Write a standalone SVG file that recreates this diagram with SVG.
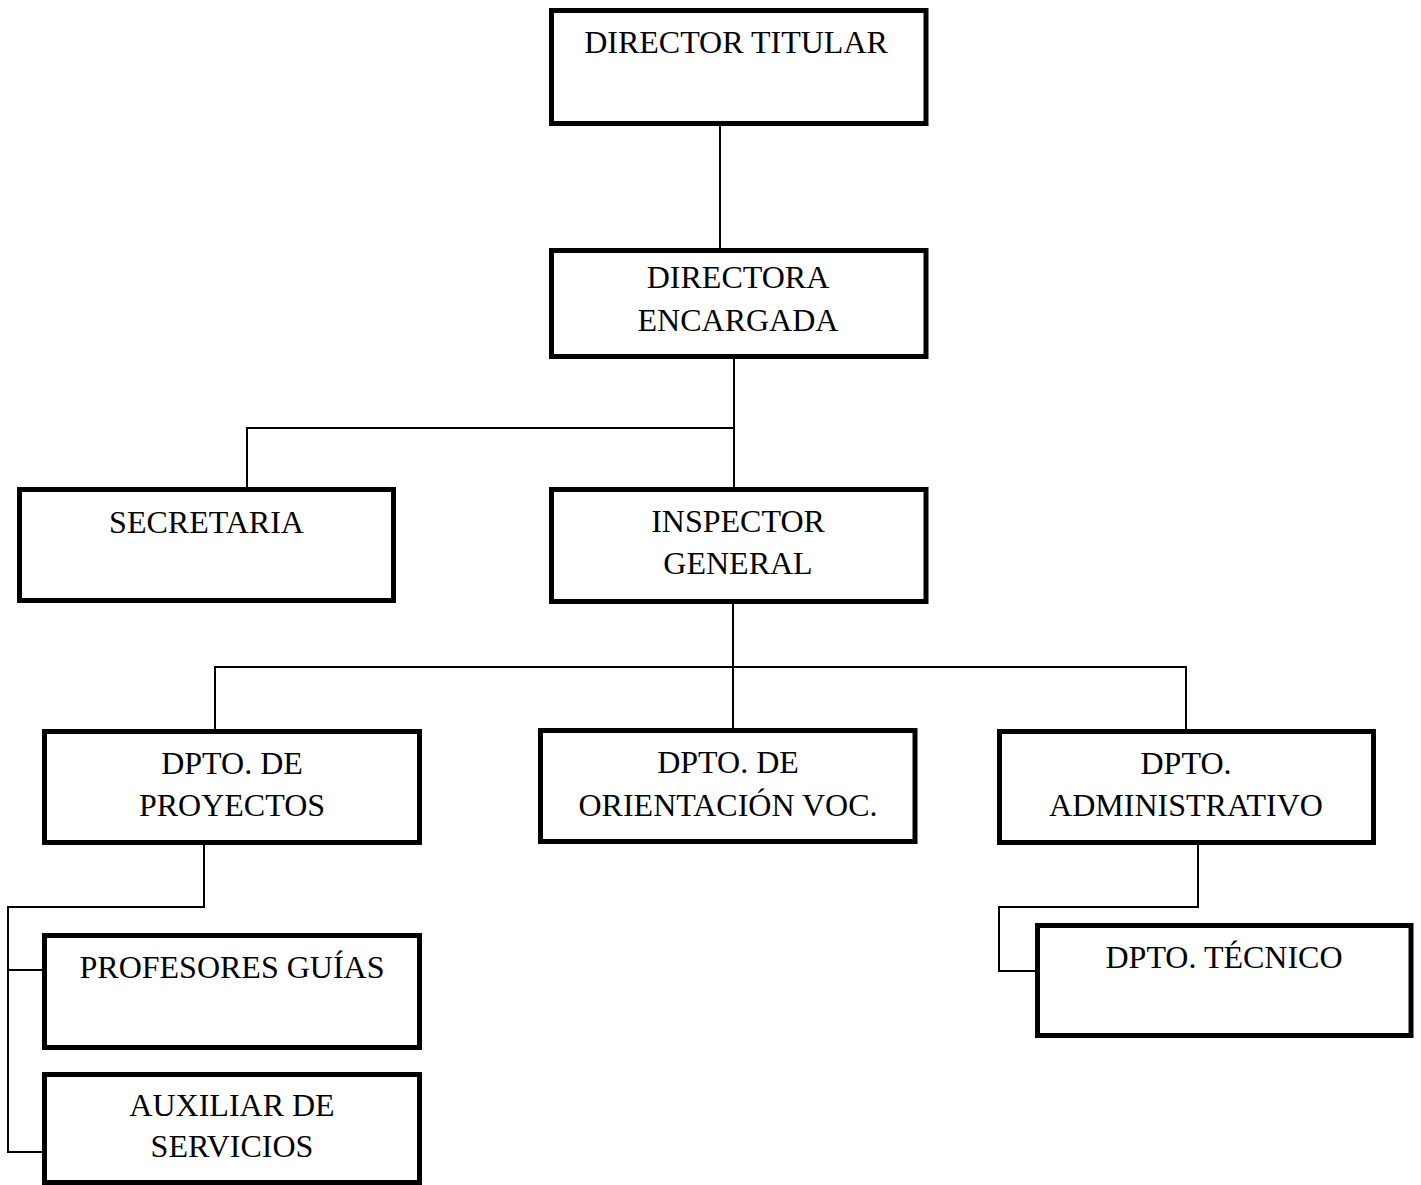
<svg xmlns="http://www.w3.org/2000/svg" width="1421" height="1185" viewBox="0 0 1421 1185">
<style>
.box{fill:#fff;stroke:#000;stroke-width:5}
.lbl{font-family:"Liberation Serif","Times New Roman",serif;font-size:32px;fill:#000;text-anchor:middle}
.conn{fill:none;stroke:#000;stroke-width:2}
</style>
<rect width="1421" height="1185" fill="#fff"/>
<g id="connectors">
<path class="conn" d="M720,124 V250"/>
<path class="conn" d="M734,357 V490"/>
<path class="conn" d="M247,490 V428 H734"/>
<path class="conn" d="M733,602 V737"/>
<path class="conn" d="M215,731 V667 H1186 V731"/>
<path class="conn" d="M204,843 V907 H8 V1152 H45"/>
<path class="conn" d="M8,970 H45"/>
<path class="conn" d="M1198,843 V907 H999 V971 H1037"/>
</g>
<g id="director-titular">
<rect class="box" x="551.5" y="10.5" width="374.5" height="113"/>
<text class="lbl" x="736" y="53">DIRECTOR TITULAR</text>
</g>
<g id="directora-encargada">
<rect class="box" x="551.5" y="250.5" width="374.5" height="106"/>
<text class="lbl" x="738" y="288">DIRECTORA</text>
<text class="lbl" x="738" y="331">ENCARGADA</text>
</g>
<g id="secretaria">
<rect class="box" x="19.5" y="489.5" width="374" height="111"/>
<text class="lbl" x="206.5" y="533">SECRETARIA</text>
</g>
<g id="inspector-general">
<rect class="box" x="551.5" y="489.5" width="374.5" height="112"/>
<text class="lbl" x="738" y="532">INSPECTOR</text>
<text class="lbl" x="738" y="574">GENERAL</text>
</g>
<g id="dpto-proyectos">
<rect class="box" x="44.5" y="731.5" width="375" height="111"/>
<text class="lbl" x="232" y="774">DPTO. DE</text>
<text class="lbl" x="232" y="816">PROYECTOS</text>
</g>
<g id="dpto-orientacion">
<rect class="box" x="540.5" y="730.5" width="374.5" height="111"/>
<text class="lbl" x="728" y="773">DPTO. DE</text>
<text class="lbl" x="728" y="816">ORIENTACIÓN VOC.</text>
</g>
<g id="dpto-administrativo">
<rect class="box" x="999.5" y="731.5" width="374" height="111"/>
<text class="lbl" x="1186" y="774">DPTO.</text>
<text class="lbl" x="1186" y="816">ADMINISTRATIVO</text>
</g>
<g id="profesores-guias">
<rect class="box" x="44.5" y="935.5" width="375" height="112"/>
<text class="lbl" x="232" y="978">PROFESORES GUÍAS</text>
</g>
<g id="auxiliar-servicios">
<rect class="box" x="44.5" y="1074.5" width="375" height="108"/>
<text class="lbl" x="232" y="1116">AUXILIAR DE</text>
<text class="lbl" x="232" y="1157">SERVICIOS</text>
</g>
<g id="dpto-tecnico">
<rect class="box" x="1037.5" y="925.5" width="373.5" height="110"/>
<text class="lbl" x="1224" y="968">DPTO. TÉCNICO</text>
</g>
</svg>
